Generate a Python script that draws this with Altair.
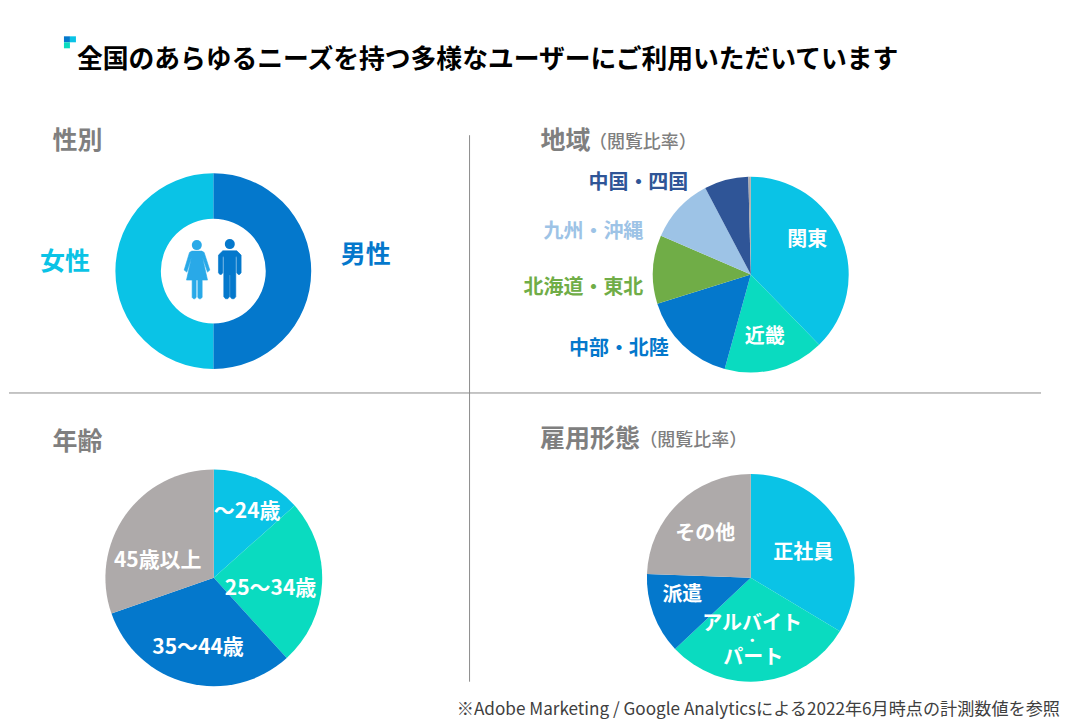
import altair as alt
import pandas as pd

FONT = "Noto Sans CJK JP"
BLUE, CYAN, TEAL, GREY = "#0478cc", "#0ac3e6", "#0adbc0", "#aeaaaa"
GREEN, LIGHT, NAVY = "#70ad47", "#9dc3e6", "#2f5597"
INK = "#7f7f7f"

title = "全国のあらゆるニーズを持つ多様なユーザーにご利用いただいています"
footnote = "※Adobe Marketing / Google Analyticsによる2022年6月時点の計測数値を参照"

gender_names = ["男性", "女性"]
gender_values = [50, 50]
gender_colors = [BLUE, CYAN]

region_names = ["関東", "近畿", "中部・北陸", "北海道・東北", "九州・沖縄", "中国・四国", "その他"]
region_values = [37.7, 16.6, 15.9, 11.3, 10.8, 7.3, 0.4]
region_colors = [CYAN, TEAL, BLUE, GREEN, LIGHT, NAVY, GREY]

age_names = ["～24歳", "25～34歳", "35～44歳", "45歳以上"]
age_values = [13.4, 24.85, 31.4, 30.35]
age_colors = [CYAN, TEAL, BLUE, GREY]

job_names = ["正社員", "アルバイト・パート", "派遣", "その他"]
job_values = [33.6, 29.4, 12.6, 24.4]
job_colors = [CYAN, TEAL, BLUE, GREY]

W, H = 1052, 712
OX, OY = 8, 8


def pie(names, values, colors, cx, cy, r, inner=0):
    df = pd.DataFrame({"name": names, "value": values, "color": colors, "i": range(len(names))})
    return alt.Chart(df).mark_arc(outerRadius=r, innerRadius=inner).encode(
        x=alt.value(cx - OX),
        y=alt.value(cy - OY),
        theta=alt.Theta("value:Q", stack=True, scale=alt.Scale(domain=[0, 100], range=[0, 6.28318530718])),
        order=alt.Order("i:Q"),
        color=alt.Color("color:N", scale=None),
    )


def label(text, x, y, size, color, weight="bold", align="left"):
    return alt.Chart(pd.DataFrame({"t": [text]})).mark_text(
        font=FONT, fontSize=size, fontWeight=weight, color=color, align=align, baseline="middle"
    ).encode(x=alt.value(x - OX), y=alt.value(y - OY), text="t:N")


def rule(x1, y1, x2, y2):
    return alt.Chart(pd.DataFrame({"a": [0]})).mark_rule(color="#8c8c8c", strokeWidth=1).encode(
        x=alt.value(x1 - OX), x2=alt.value(x2 - OX), y=alt.value(y1 - OY), y2=alt.value(y2 - OY)
    )


def tile(x1, y1, x2, y2, color):
    return alt.Chart(pd.DataFrame({"a": [0]})).mark_rect(color=color).encode(
        x=alt.value(x1 - OX), x2=alt.value(x2 - OX), y=alt.value(y1 - OY), y2=alt.value(y2 - OY)
    )


def glyph(pts, cx, cy, color):
    # outline given in 3x pixels around the figure's centre
    d = "M" + "L".join(f"{(a - GX[color]) / 90:.3f},{(b - 210) / 90:.3f}" for a, b in pts) + "Z"
    return alt.Chart(pd.DataFrame({"a": [0]})).mark_point(
        shape=d, size=3600, filled=True, color=color, opacity=1, stroke=color, strokeWidth=0.6, strokeJoin="round"
    ).encode(x=alt.value(cx - OX), y=alt.value(cy - OY))


def head(cx, cy, color):
    return alt.Chart(pd.DataFrame({"a": [0]})).mark_point(
        shape="circle", size=100, filled=True, color=color, opacity=1
    ).encode(x=alt.value(cx - OX), y=alt.value(cy - OY))


WOMAN = "#29a9e8"
GX = {WOMAN: 141, BLUE: 239}
woman = [(126,153),(156,153),(163,157),(180,210),(173,216),(158,172),(173,240),(157,240),(157,292),(152,296),
         (148,296),(144,292),(144,240),(139,240),(139,292),(135,296),(131,296),(127,292),(127,240),(110,240),
         (125,172),(111,216),(103,210),(119,157)]
man = [(218,152),(260,152),(273,165),(273,218),(269,223),(264,223),(260,218),(260,170),(257,170),(257,290),
       (252,296),(245,296),(240,290),(240,225),(238,225),(238,290),(233,296),(226,296),(221,290),(221,170),
       (218,170),(218,218),(214,223),(209,223),(205,218),(205,165)]

layers = [
    rule(8, 393, 1041, 393),
    rule(469, 135, 469, 682),
    tile(63, 36, 69, 42, BLUE), tile(69, 36, 75, 42, CYAN), tile(63, 42, 69, 48, TEAL),
    pie(gender_names, gender_values, gender_colors, 212.5, 271, 98, 52.5),
    pie(region_names, region_values, region_colors, 750.5, 274.5, 98),
    pie(age_names, age_values, age_colors, 213, 578, 108.5),
    pie(job_names, job_values, job_colors, 750.5, 578, 104),
    glyph(woman, 196, 270, WOMAN), head(196, 245, WOMAN),
    glyph(man, 229, 270, BLUE), head(229, 244, BLUE),
    label(title, 76, 60, 25.8, "#000000"),
    label("性別", 51.5, 141, 25, INK),
    label("地域", 540, 141, 25, INK),
    label("（閲覧比率）", 588.5, 143, 18, INK, weight=500),
    label("年齢", 51.5, 442, 25, INK),
    label("雇用形態", 539.5, 439, 25, INK),
    label("（閲覧比率）", 639, 441, 18, INK, weight=500),
    label("女性", 39, 262, 25, CYAN),
    label("男性", 340, 255, 25, BLUE),
    label("関東", 787, 240, 20, "#ffffff"),
    label("近畿", 744.5, 337, 20, "#ffffff"),
    label("中部・北陸", 568.5, 349, 20, BLUE),
    label("北海道・東北", 523, 288, 20, GREEN),
    label("九州・沖縄", 543, 232, 20, LIGHT),
    label("中国・四国", 588, 183, 20, NAVY),
    label("～24歳", 213, 512, 21, "#ffffff"),
    label("25～34歳", 224, 589, 21, "#ffffff"),
    label("35～44歳", 151.5, 648, 21, "#ffffff"),
    label("45歳以上", 113, 561, 21, "#ffffff"),
    label("正社員", 773, 553, 20, "#ffffff"),
    label("その他", 675, 534, 20, "#ffffff"),
    label("派遣", 662, 595, 20, "#ffffff"),
    label("アルバイト", 702, 624, 20, "#ffffff"),
    label("・", 752, 641, 13, "#ffffff", align="center"),
    label("パート", 723, 658, 20, "#ffffff"),
    label(footnote, 1060, 710.5, 17.15, "#404040", weight="normal", align="right"),
]

chart = alt.layer(*layers).properties(width=W, height=H, padding=0).configure_view(stroke=None)
chart.save("out.html", embed_options={"renderer": "svg", "actions": False})
